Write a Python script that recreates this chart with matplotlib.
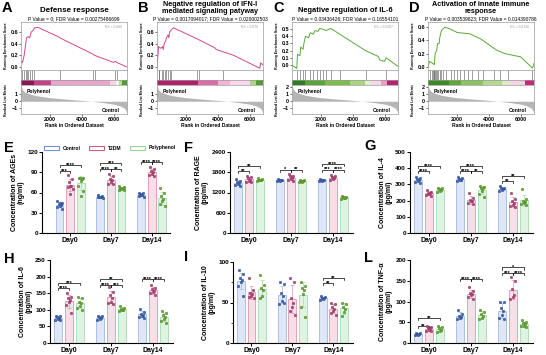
import numpy as np
import matplotlib
matplotlib.use('Agg')
import matplotlib.pyplot as plt
from matplotlib.patches import Rectangle, Patch

plt.rcParams['font.family'] = ['Liberation Sans', 'DejaVu Sans']
plt.rcParams['font.weight'] = 'bold'
plt.rcParams['axes.labelweight'] = 'bold'

W, H = 546, 355
fig = plt.figure(figsize=(W / 100, H / 100), dpi=100)


def box(x0, y0, x1, y1):
    return [x0 / W, 1 - y1 / H, (x1 - x0) / W, (y1 - y0) / H]


# ---------------- GSEA data ----------------
gsea_titles = ['Defense response',
               'Negative regulation of IFN-I\nmediated signaling patyway',
               'Negative regulation of IL-6',
               'Activation of innate immune\nresponse']
title_sizes = [5.8, 5.2, 5.4, 5.2]
gsea_subs = ['P Value = 0; FDR Value = 0.00275486699',
             'P Value = 0.0017094017; FDR Value = 0.020002503',
             'P Value = 0.03436426; FDR Value = 0.16554101',
             'P Value = 0.003539823; FDR Value = 0.014390786']
gsea_es = ['ES = 0.680', 'ES = 0.670', 'ES = 0.5207', 'ES = 0.6130']

esA_rank = [0, 100, 200, 250, 350, 400, 500, 600, 700, 800, 900, 1000, 1200, 2500, 2600, 4700, 4800, 6000, 6100, 6200, 6850]
esA_val = [0.0, 0.05, 0.1, 0.08, 0.2, 0.3, 0.5, 0.52, 0.5, 0.6, 0.62, 0.67, 0.68, 0.52, 0.5, 0.22, 0.2, 0.08, 0.1, 0.08, 0.0]
hitsA = [100, 200, 350, 450, 500, 600, 700, 850, 1000, 2600, 4700, 4800, 6100, 6200]

esB_rank = [150, 250, 400, 500, 550, 600, 700, 750, 850, 900, 950, 1100, 1200, 2700, 3800, 3900, 5000, 6650, 6700, 6850]
esB_val = [0.0, 0.35, 0.32, 0.35, 0.3, 0.4, 0.45, 0.5, 0.55, 0.5, 0.6, 0.65, 0.67, 0.48, 0.33, 0.3, 0.2, -0.02, 0.07, 0.04]
hitsB = [250, 300, 450, 550, 650, 750, 850, 950, 1050, 2700, 2800, 4300]

esC_rank = [150, 450, 500, 650, 700, 850, 900, 1000, 1200, 1300, 1500, 1600, 1800, 1900, 2100, 2300, 2600, 4800, 5600, 5700, 6000, 6100, 6850]
esC_val = [0.0, -0.05, 0.15, 0.13, 0.25, 0.22, 0.3, 0.4, 0.38, 0.45, 0.43, 0.48, 0.47, 0.51, 0.5, 0.48, 0.51, 0.2, 0.12, 0.07, 0.05, 0.1, -0.02]
hitsC = [450, 650, 850, 1000, 1300, 1500, 1700, 1900, 2100, 2300, 2600, 3200, 4800, 6100]

esD_rank = [150, 250, 450, 550, 600, 700, 750, 850, 900, 1000, 1200, 1500, 2000, 2800, 3500, 4500, 5000, 6000, 6750, 6850]
esD_val = [0.0, 0.08, 0.05, 0.03, 0.2, 0.25, 0.35, 0.35, 0.45, 0.55, 0.6, 0.58, 0.52, 0.5, 0.42, 0.25, 0.2, 0.15, -0.02, 0.05]
hitsD = [250, 400, 450, 500, 550, 600, 650, 700, 800, 900, 1000, 1100, 1300, 1600, 1800, 2000,
         2200, 2400, 2700, 2900, 3300, 3600, 4300, 4700, 5200, 6750]

barsA = [(0, 1000, '#8e1552'), (1000, 2050, '#c8408c'), (2050, 5800, '#eaa5cc'), (5800, 6150, '#f6d3e6'),
         (6150, 6350, '#f5f5ee'), (6350, 6550, '#b6dd95'), (6550, 7000, '#4e9c2c')]
barsB = [(0, 2770, '#b01e6e'), (2770, 4020, '#de6aa8'), (4020, 4750, '#f0b4d4'), (4750, 6000, '#f8d8ea'),
         (6000, 6420, '#a9d67e'), (6420, 7000, '#4e9c2c')]
barsC = [(0, 1000, '#2f7d1f'), (1000, 2250, '#5aa336'), (2250, 3800, '#7dbb4a'), (3800, 4750, '#a8d47f'),
         (4750, 5170, '#e2ecd0'), (5170, 5800, '#f6d6e7'), (5800, 6150, '#ec9cc6'), (6150, 7000, '#b4226f')]
barsD = [(0, 1500, '#3b8a24'), (1500, 2250, '#5ea83a'), (2250, 3600, '#8cc45e'), (3600, 4850, '#b4da8e'),
         (4850, 5375, '#e2e6cf'), (5375, 6300, '#f5d3e5'), (6300, 7000, '#c02c7a')]

metric_rank = [150, 250, 400, 700, 1000, 1500, 2000, 3000, 4000, 4600, 5200, 6000, 6400, 6700, 6850]
metric_val = [2.2, 1.6, 1.3, 1.05, 0.85, 0.65, 0.5, 0.3, 0.12, 0.0, -0.15, -0.4, -0.65, -1.0, -1.6]


def gsea(x0, letter, title, tsize, sub, es_txt, er, ev, ecolor, eticks, elim, hits, segs, mticks):
    x1 = x0 + 106
    xl = (150, 6850)
    ax1 = fig.add_axes(box(x0, 22, x1, 70))
    ax1.plot(er, ev, color=ecolor, lw=0.7)
    ax1.set_xlim(xl)
    ax1.set_ylim(elim)
    ax1.set_yticks(eticks)
    ax1.set_yticklabels(['%.1f' % t for t in eticks])
    ax1.set_xticks([])
    ax1.set_ylabel('Running Enrichment Score', fontsize=2.6, labelpad=1.5)
    ax1.text(0.95, 0.9, es_txt, transform=ax1.transAxes, ha='right', va='center',
             fontsize=2.4, color='#999999', fontweight='normal')
    ax2 = fig.add_axes(box(x0, 70, x1, 80))
    ax2.vlines(hits, 0, 1, color='#666666', lw=0.45)
    ax2.set_xlim(xl)
    ax2.set_ylim(0, 1)
    ax2.set_xticks([])
    ax2.set_yticks([])
    ax3 = fig.add_axes(box(x0, 80, x1, 85))
    for s, e, c in segs:
        ax3.add_patch(Rectangle((s, 0), e - s, 1, color=c, lw=0))
    ax3.set_xlim(xl)
    ax3.set_ylim(0, 1)
    ax3.set_xticks([])
    ax3.set_yticks([])
    ax4 = fig.add_axes(box(x0, 85, x1, 114))
    ax4.fill_between(metric_rank, metric_val, 0, color='#b5b5b5', lw=0)
    ax4.set_xlim(xl)
    ax4.set_ylim(-1.8, 2.3)
    ax4.set_yticks(mticks)
    ax4.set_xticks([2000, 4000, 6000])
    ax4.set_xlabel('Rank in Ordered Dataset', fontsize=3.6, labelpad=1)
    ax4.set_ylabel('Ranked List Metric', fontsize=2.6, labelpad=3)
    ax4.text(0.05, 0.78, 'Polyhenol', transform=ax4.transAxes, fontsize=3.6, va='center')
    ax4.text(0.93, 0.12, 'Control', transform=ax4.transAxes, fontsize=3.6, va='center', ha='right')
    for a in (ax1, ax2, ax3, ax4):
        for sp in a.spines.values():
            sp.set_color('#9a9a9a')
            sp.set_linewidth(0.5)
        a.tick_params(labelsize=3.9, length=1.2, width=0.4, pad=1)
    fig.text((x0 + x1) / 2 / W, 1 - 19 / H, sub, ha='center', va='center', fontsize=3.5, fontweight='normal')
    ty = 10 if '\n' not in title else 8
    fig.text((x0 + x1) / 2 / W, 1 - ty / H, title, ha='center', va='center', fontsize=tsize,
             linespacing=0.85)
    fig.text((x0 - 19) / W, 1 - 8 / H, letter, ha='left', va='center', fontsize=10.5)


gsea(21, 'A', gsea_titles[0], title_sizes[0], gsea_subs[0], gsea_es[0], esA_rank, esA_val, '#d2488f',
     [0.0, 0.2, 0.4, 0.6], (-0.05, 0.77), hitsA, barsA, [-1, 0, 1])
gsea(157, 'B', gsea_titles[1], title_sizes[1], gsea_subs[1], gsea_es[1], esB_rank, esB_val, '#d2488f',
     [0.0, 0.2, 0.4, 0.6], (-0.05, 0.77), hitsB, barsB, [-1, 0, 1])
gsea(292, 'C', gsea_titles[2], title_sizes[2], gsea_subs[2], gsea_es[2], esC_rank, esC_val, '#5aa83a',
     [0.0, 0.1, 0.2, 0.3, 0.4, 0.5], (-0.07, 0.6), hitsC, barsC, [-1, 0, 1, 2])
gsea(428, 'D', gsea_titles[3], title_sizes[3], gsea_subs[3], gsea_es[3], esD_rank, esD_val, '#5aa83a',
     [0.0, 0.2, 0.4, 0.6], (-0.05, 0.68), hitsD, barsD, [-1, 0, 1, 2])

# ---------------- bar chart data ----------------
days = ['Day0', 'Day7', 'Day14']
groups = ['Control', 'T2DM', 'Polyphenol']

ages_control = [[47, 45, 43, 42, 40, 38, 36, 44], [56, 55, 54, 54, 53, 53, 52], [60, 59, 58, 57, 56, 55, 54]]
ages_t2dm = [[86, 80, 75, 70, 69, 68, 65, 58], [87, 84, 80, 78, 76, 73, 72], [98, 95, 92, 90, 88, 86, 85]]
ages_poly = [[82, 82, 81, 80, 77, 70, 62, 55], [70, 68, 67, 66, 65, 64, 64], [67, 60, 55, 50, 47, 43, 40]]
ages_sig = [(0, 0, 1, 92, '***'), (0, 0, 2, 101, '****'), (1, 0, 1, 95, '****'), (1, 1, 2, 95, '**'),
            (1, 0, 2, 104, '***'), (2, 0, 1, 105, '****'), (2, 1, 2, 105, '****')]

rage_control = [[1600, 1550, 1500, 1480, 1450, 1420, 1400], [1600, 1580, 1570, 1560, 1550, 1540],
                [1600, 1580, 1570, 1560, 1550, 1540]]
rage_t2dm = [[1700, 1650, 1620, 1580, 1550, 1520, 1500], [1750, 1700, 1680, 1640, 1600, 1580, 1550],
             [1720, 1680, 1650, 1630, 1600, 1580]]
rage_poly = [[1620, 1600, 1580, 1570, 1560, 1550], [1580, 1560, 1550, 1540, 1520, 1500],
             [1100, 1080, 1060, 1050, 1030, 1000]]
rage_sig = [(0, 0, 1, 1830, '**'), (0, 0, 2, 1975, '**'), (1, 0, 1, 1880, '*'), (1, 1, 2, 1880, '**'),
            (2, 0, 1, 1880, '***'), (2, 1, 2, 1880, '****'), (2, 0, 2, 2040, '****')]

il4_control = [[345, 340, 335, 330, 320, 315, 310], [345, 340, 335, 330, 325, 320], [290, 280, 275, 270, 265, 260]]
il4_t2dm = [[265, 255, 250, 245, 240, 235, 230], [250, 215, 205, 200, 195, 185, 180],
            [245, 210, 195, 185, 175, 165, 160]]
il4_poly = [[280, 275, 270, 265, 260, 255], [290, 285, 280, 275, 260, 240, 225], [270, 210, 200, 190, 185, 180, 175]]
il4_sig = [(0, 0, 1, 385, '****'), (0, 0, 2, 411, '****'), (1, 0, 1, 385, '****'), (1, 1, 2, 385, '**'),
           (1, 0, 2, 411, '****'), (2, 0, 1, 320, '**'), (2, 0, 2, 350, '**')]

il6_control = [[82, 80, 77, 75, 73, 70, 68], [82, 80, 78, 75, 72, 70], [102, 92, 88, 85, 82, 78, 75]]
il6_t2dm = [[150, 140, 135, 130, 125, 115, 90], [168, 155, 145, 135, 125, 120, 118],
            [175, 165, 162, 158, 155, 150, 145]]
il6_poly = [[140, 135, 125, 120, 110, 105, 100], [112, 105, 102, 100, 98, 95], [95, 90, 85, 78, 72, 65, 60]]
il6_sig = [(0, 0, 1, 166, '****'), (0, 0, 2, 180, '***'), (1, 0, 1, 176, '****'), (1, 1, 2, 176, '***'),
           (1, 0, 2, 194, '**'), (2, 0, 1, 193, '****'), (2, 1, 2, 193, '****')]

il10_control = [[90, 85, 80, 78, 75, 70, 58], [75, 73, 62, 58, 52, 48, 50], [58, 57, 56, 55, 54, 53]]
il10_t2dm = [[80, 65, 62, 60, 58, 57, 55], [80, 75, 55, 50, 45, 40, 35], [50, 48, 45, 42, 40, 37, 35]]
il10_poly = [[84, 72, 68, 65, 58, 55], [75, 70, 68, 66, 60, 45, 32], [50, 48, 45, 42, 38, 33]]
il10_sig = [(2, 0, 1, 74, '**'), (2, 0, 2, 80, '**')]

tnf_control = [[25, 23, 22, 21, 20, 19], [80, 70, 65, 63, 60, 58], [100, 98, 85, 78, 68, 60, 58]]
tnf_t2dm = [[40, 38, 36, 35, 32, 30, 28], [135, 125, 120, 118, 115, 110, 105], [160, 150, 130, 115, 110, 105]]
tnf_poly = [[42, 38, 35, 32, 30, 26], [80, 75, 70, 65, 60, 58], [55, 50, 47, 45, 42, 40, 38]]
tnf_sig = [(0, 0, 1, 40, '**'), (0, 0, 2, 60, '**'), (1, 0, 1, 155, '****'), (1, 1, 2, 155, '****'),
           (2, 0, 1, 169, '***'), (2, 1, 2, 169, '****'), (2, 0, 2, 182, '*')]

fill_colors = ['#dfe7f7', '#f7dfe8', '#dff3e2']
edge_colors = ['#a3b8e6', '#de95b2', '#a3dcaf']
dot_colors = ['#4467b2', '#b44b7c', '#6dac36']
dot_edges = ['#2b4a8a', '#8a2f5a', '#4a7f20']
leg_colors = ['#7391d6', '#cc5c86', '#93d6a0']
offs = [-0.26, 0.0, 0.26]
jit = [-0.05, 0.05, -0.025, 0.025, 0.0, -0.06, 0.06, 0.0]


def barpanel(rect, data, ymax, yticks, ylab, sig, xl, letter, lxy, minor=None):
    ax = fig.add_axes(box(*rect))
    for g in range(3):
        for d in range(3):
            vals = np.array(data[g][d], dtype=float)
            x = d + offs[g]
            m = vals.mean()
            sd = vals.std(ddof=1)
            ax.bar(x, m, width=0.19, color=fill_colors[g], edgecolor=edge_colors[g], lw=0.6, zorder=1)
            ax.errorbar(x, m, yerr=sd, color=edge_colors[g], lw=0.5, capsize=1.2, capthick=0.5, zorder=2)
            xs = [x + jit[k % len(jit)] for k in range(len(vals))]
            ax.scatter(xs, vals, s=3.5, color=dot_colors[g], edgecolor=dot_edges[g], linewidth=0.3, zorder=3)
    h = ymax * 0.025
    for d, i, j, y, t in sig:
        xi, xj = d + offs[i], d + offs[j]
        ax.plot([xi, xi, xj, xj], [y - h, y, y, y - h], color='black', lw=0.5)
        ax.text((xi + xj) / 2, y - ymax * 0.035, t, ha='center', va='bottom', fontsize=4.1)
    ax.set_xlim(xl)
    ax.set_ylim(0, ymax)
    ax.set_yticks(yticks)
    if minor is not None:
        ax.set_yticks(minor, minor=True)
    ax.set_xticks([0, 1, 2])
    ax.set_xticklabels(days, fontsize=5)
    ax.tick_params(axis='y', labelsize=4.6, length=2, width=0.7, pad=1)
    ax.tick_params(axis='x', length=2, width=0.7, pad=1)
    ax.tick_params(which='minor', length=1.2, width=0.5)
    ax.set_ylabel(ylab, fontsize=5, labelpad=2, linespacing=0.95)
    for s in ('top', 'right'):
        ax.spines[s].set_visible(False)
    for s in ('left', 'bottom'):
        ax.spines[s].set_linewidth(0.8)
    fig.text(lxy[0] / W, 1 - lxy[1] / H, letter, ha='left', va='center', fontsize=10.5)
    return ax


axE = barpanel((42, 152, 170, 233), [ages_control, ages_t2dm, ages_poly], 120, [0, 30, 60, 90, 120],
               'Concentration of AGEs\n(ng/ml)', ages_sig, (-0.69, 2.45), 'E', (4, 148))
barpanel((230, 152, 353, 233), [rage_control, rage_t2dm, rage_poly], 2400, [0, 600, 1200, 1800, 2400],
         'Conentration of RAGE\n(pg/ml)', rage_sig, (-0.45, 2.48), 'F', (184, 148))
barpanel((410, 152, 533, 233), [il4_control, il4_t2dm, il4_poly], 500, [0, 100, 200, 300, 400, 500],
         'Concentration of IL-4\n(pg/ml)', il4_sig, (-0.45, 2.48), 'G', (364, 146))
barpanel((50, 260, 173, 343), [il6_control, il6_t2dm, il6_poly], 250, [0, 50, 100, 150, 200, 250],
         'Concentration of IL-6\n(pg/ml)', il6_sig, (-0.45, 2.48), 'H', (4, 259))
barpanel((233, 262, 353, 343), [il10_control, il10_t2dm, il10_poly], 100, [0, 50, 100],
         'Concentration of IL-10\n(pg/ml)', il10_sig, (-0.45, 2.48), 'I', (184, 257), minor=[25, 75])
barpanel((410, 260, 533, 343), [tnf_control, tnf_t2dm, tnf_poly], 200, [0, 50, 100, 150, 200],
         'Concentration of TNF-α\n(pg/ml)', tnf_sig, (-0.45, 2.48), 'L', (364, 258))

handles = [Patch(facecolor='white', edgecolor=c, lw=0.8) for c in leg_colors]
fig.legend(handles, groups, loc='center', bbox_to_anchor=(110 / W, 1 - 148 / H), ncol=3, frameon=False,
           fontsize=3.6, handlelength=3.0, handleheight=0.8, columnspacing=1.6, handletextpad=0.8)

fig.savefig('out.png', dpi=100)
